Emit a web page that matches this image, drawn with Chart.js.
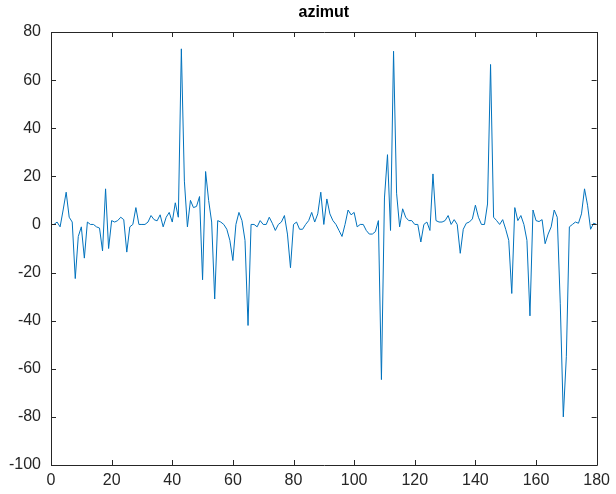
<!DOCTYPE html>
<html>
<head>
<meta charset="utf-8">
<script src="https://cdn.jsdelivr.net/npm/chart.js@4/dist/chart.umd.min.js"></script>
<style>
    html, body { margin: 0; padding: 0; background: #fff; }
    #wrap { width: 616px; height: 494px; }
</style>
</head>
<body>
<div id="wrap"><canvas id="azimutChart"></canvas></div>
<script>
// azimut readings, one per sample (samples 1..180)
var azimut = [
    0, 1, -1, 6, 13.4, 3, 1, -22.5, -5, -1,
    -14, 1, 0, 0, -1, -1.5, -11, 14.8, -10, 1.6,
    1, 1.6, 3, 2, -11.5, -1, 0, 7, 0, 0,
    0, 1, 3.7, 2, 1.5, 4, -1, 3, 5, 1,
    9, 3, 73, 18, -1, 10, 7, 7.5, 11.6, -23,
    22, 10, 1, -31, 1.6, 1, 0, -2, -6.6, -15,
    0, 5, 1.6, -6.6, -42, 0, 0, -1, 1.6, 0,
    0, 3, 0.5, -2.5, 0, 1, 3.7, -4, -18, 0,
    1, -2, -2, 0, 1.6, 5, 1, 4.4, 13.4, 0,
    10.6, 4.4, 1.6, 0, -2.5, -5, 0, 6, 4, 5,
    -1, 0, 0, -2.5, -4, -4, -3, 1.6, -64.5, 11,
    29, -2.5, 72, 13, -1, 6.5, 3, 1.6, 1.6, 0,
    0, -7.3, 0, 1, -2.5, 21, 1.6, 1, 1, 1.6,
    3.7, 0, 2, 0, -12, -2, 0.5, 1, 2.3, 8,
    3, 0, 0, 8.5, 66.5, 3, 1.6, 0, 2, -2,
    -6.6, -28.7, 7, 1.6, 3.7, 0, -6.6, -38, 6, 1.6,
    1.2, 2, -8, -4, -1, 6, 3, -33, -80, -55,
    -1, 0, 1, 0.5, 4.4, 14.8, 8, -2, 0.5, 0
];
var sampleNo = azimut.map(function (v, i) { return i + 1; });

var xTicks = [0, 20, 40, 60, 80, 100, 120, 140, 160, 180];
var yTicks = [-100, -80, -60, -40, -20, 0, 20, 40, 60, 80];
var titleText = 'azimut';

var axisColor = '#262626';
var lineColor = '#0072BD';
var fontFamily = '"Liberation Sans", Arial, sans-serif';

// boxed axes with inward ticks on all four sides, plus the title
var matlabBox = {
    id: 'matlabBox',
    afterDraw: function (chart) {
        var ctx = chart.ctx;
        var a = chart.chartArea;
        var xs = chart.scales.x, ys = chart.scales.y;
        var tl = 5;
        ctx.save();
        ctx.strokeStyle = axisColor;
        ctx.lineWidth = 1;
        ctx.beginPath();
        ctx.rect(Math.round(a.left) + 0.5, Math.round(a.top) + 0.5,
            Math.round(a.right - a.left), Math.round(a.bottom - a.top));
        xTicks.forEach(function (t) {
            var px = Math.round(xs.getPixelForValue(t)) + 0.5;
            ctx.moveTo(px, a.bottom); ctx.lineTo(px, a.bottom - tl);
            ctx.moveTo(px, a.top); ctx.lineTo(px, a.top + tl);
        });
        yTicks.forEach(function (t) {
            var py = Math.round(ys.getPixelForValue(t)) + 0.5;
            ctx.moveTo(a.left, py); ctx.lineTo(a.left + tl, py);
            ctx.moveTo(a.right, py); ctx.lineTo(a.right - tl, py);
        });
        ctx.stroke();

        ctx.fillStyle = '#000';
        ctx.font = 'bold 16px ' + fontFamily;
        ctx.textAlign = 'center';
        ctx.textBaseline = 'alphabetic';
        ctx.fillText(titleText, (a.left + a.right) / 2, a.top - 15);
        ctx.restore();
    }
};

new Chart('azimutChart', {
    type: 'line',
    data: {
        labels: sampleNo,
        datasets: [{
            data: azimut,
            borderColor: lineColor,
            borderWidth: 1,
            pointRadius: 0,
            tension: 0,
            fill: false
        }]
    },
    options: {
        responsive: true,
        maintainAspectRatio: false,
        animation: false,
        layout: { padding: { top: 32, right: 19, left: 0, bottom: 0 } },
        plugins: {
            legend: { display: false },
            tooltip: { enabled: false },
            title: { display: false }
        },
        scales: {
            x: {
                type: 'linear',
                min: 0,
                max: 180,
                afterBuildTicks: function (s) { s.ticks = xTicks.map(function (v) { return { value: v }; }); },
                afterFit: function (s) { s.height = 29; },
                grid: { display: false, drawTicks: false },
                border: { display: false },
                ticks: {
                    color: axisColor,
                    padding: 6,
                    maxRotation: 0,
                    font: { family: fontFamily, size: 16 }
                }
            },
            y: {
                min: -100,
                max: 80,
                afterBuildTicks: function (s) { s.ticks = yTicks.map(function (v) { return { value: v }; }); },
                afterFit: function (s) { s.width = 51; },
                grid: { display: false, drawTicks: false },
                border: { display: false },
                ticks: {
                    color: axisColor,
                    padding: 10,
                    font: { family: fontFamily, size: 16 }
                }
            }
        }
    },
    plugins: [matlabBox]
});
</script>
</body>
</html>
